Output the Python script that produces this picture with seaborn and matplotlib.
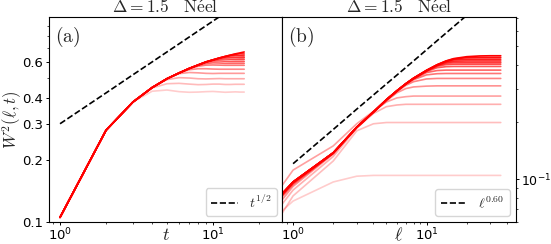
import matplotlib
matplotlib.use("Agg")
import matplotlib.pyplot as plt
import numpy as np
import seaborn as sns
from matplotlib.ticker import NullFormatter

# panel (a): W^2 vs t, one curve per subsystem size
t_vals = [1, 2, 3, 4, 5, 6, 7, 8, 9, 10, 11, 12, 13, 14, 15, 16]
w_t_curves = [
    [0.105, 0.279, 0.383, 0.432, 0.438, 0.430, 0.427, 0.428, 0.430, 0.431, 0.429, 0.427, 0.428, 0.429, 0.428, 0.428],
    [0.105, 0.279, 0.383, 0.448, 0.470, 0.472, 0.468, 0.465, 0.466, 0.468, 0.468, 0.466, 0.466, 0.467, 0.467, 0.467],
    [0.105, 0.279, 0.383, 0.450, 0.492, 0.503, 0.501, 0.497, 0.496, 0.497, 0.498, 0.497, 0.497, 0.497, 0.497, 0.497],
    [0.105, 0.279, 0.383, 0.450, 0.497, 0.526, 0.533, 0.531, 0.528, 0.527, 0.528, 0.528, 0.528, 0.528, 0.528, 0.528],
    [0.105, 0.279, 0.383, 0.450, 0.497, 0.530, 0.550, 0.556, 0.556, 0.554, 0.553, 0.553, 0.553, 0.553, 0.553, 0.553],
    [0.105, 0.279, 0.383, 0.450, 0.497, 0.530, 0.556, 0.572, 0.579, 0.580, 0.579, 0.578, 0.578, 0.578, 0.578, 0.578],
    [0.105, 0.279, 0.383, 0.450, 0.497, 0.530, 0.558, 0.578, 0.590, 0.594, 0.593, 0.591, 0.591, 0.591, 0.591, 0.591],
    [0.105, 0.279, 0.383, 0.450, 0.497, 0.530, 0.558, 0.580, 0.598, 0.606, 0.607, 0.605, 0.604, 0.604, 0.604, 0.604],
    [0.105, 0.279, 0.383, 0.450, 0.497, 0.530, 0.558, 0.580, 0.600, 0.612, 0.619, 0.620, 0.619, 0.618, 0.618, 0.618],
    [0.105, 0.279, 0.383, 0.450, 0.497, 0.530, 0.558, 0.580, 0.600, 0.614, 0.626, 0.631, 0.632, 0.631, 0.630, 0.630],
    [0.105, 0.279, 0.383, 0.450, 0.497, 0.530, 0.558, 0.580, 0.600, 0.614, 0.627, 0.637, 0.643, 0.644, 0.643, 0.642],
    [0.105, 0.279, 0.383, 0.450, 0.497, 0.530, 0.558, 0.580, 0.600, 0.614, 0.627, 0.638, 0.647, 0.654, 0.657, 0.656],
    [0.105, 0.279, 0.383, 0.450, 0.497, 0.530, 0.558, 0.580, 0.600, 0.614, 0.627, 0.638, 0.648, 0.657, 0.664, 0.671],
]
t_guide = [0.300, 0.424, 0.520, 0.600, 0.671, 0.735, 0.794, 0.849, 0.900, 0.949, 0.995, 1.039, 1.082, 1.122, 1.162, 1.200]

# panel (b): W^2 vs subsystem size, one curve per time
ell_vals = [0.8, 1, 2, 3, 4, 5, 6, 7, 8, 10, 12, 14, 16, 20, 25, 30, 36]
w_ell_curves = [
    [0.067, 0.077, 0.097, 0.104, 0.105, 0.105, 0.105, 0.105, 0.105, 0.105, 0.105, 0.105, 0.105, 0.105, 0.105, 0.105, 0.105],
    [0.064, 0.082, 0.125, 0.180, 0.196, 0.199, 0.199, 0.199, 0.199, 0.199, 0.199, 0.199, 0.199, 0.199, 0.199, 0.199, 0.199],
    [0.072, 0.088, 0.132, 0.186, 0.222, 0.241, 0.246, 0.248, 0.248, 0.248, 0.248, 0.248, 0.248, 0.248, 0.248, 0.248, 0.248],
    [0.090, 0.112, 0.150, 0.196, 0.228, 0.255, 0.268, 0.272, 0.274, 0.274, 0.274, 0.274, 0.274, 0.274, 0.274, 0.274, 0.274],
    [0.076, 0.092, 0.136, 0.187, 0.225, 0.258, 0.285, 0.300, 0.306, 0.309, 0.310, 0.310, 0.310, 0.310, 0.310, 0.310, 0.310],
    [0.079, 0.094, 0.137, 0.188, 0.226, 0.260, 0.289, 0.312, 0.326, 0.337, 0.339, 0.339, 0.339, 0.339, 0.339, 0.339, 0.339],
    [0.080, 0.095, 0.137, 0.188, 0.226, 0.261, 0.291, 0.316, 0.334, 0.354, 0.359, 0.360, 0.360, 0.360, 0.360, 0.360, 0.360],
    [0.081, 0.096, 0.138, 0.188, 0.226, 0.262, 0.292, 0.317, 0.337, 0.364, 0.373, 0.375, 0.375, 0.375, 0.375, 0.375, 0.375],
    [0.081, 0.096, 0.138, 0.188, 0.226, 0.262, 0.292, 0.318, 0.338, 0.369, 0.386, 0.391, 0.392, 0.392, 0.392, 0.392, 0.392],
    [0.082, 0.097, 0.138, 0.188, 0.226, 0.262, 0.292, 0.318, 0.339, 0.371, 0.393, 0.401, 0.403, 0.403, 0.403, 0.403, 0.403],
    [0.082, 0.097, 0.138, 0.188, 0.226, 0.262, 0.292, 0.318, 0.340, 0.372, 0.396, 0.408, 0.411, 0.411, 0.411, 0.411, 0.411],
    [0.082, 0.097, 0.138, 0.188, 0.226, 0.262, 0.292, 0.318, 0.340, 0.373, 0.398, 0.413, 0.418, 0.419, 0.419, 0.419, 0.419],
    [0.082, 0.097, 0.138, 0.188, 0.226, 0.262, 0.292, 0.318, 0.340, 0.373, 0.399, 0.416, 0.425, 0.428, 0.428, 0.428, 0.428],
    [0.082, 0.097, 0.138, 0.188, 0.226, 0.262, 0.292, 0.318, 0.340, 0.374, 0.400, 0.418, 0.429, 0.436, 0.437, 0.437, 0.437],
    [0.082, 0.097, 0.138, 0.188, 0.226, 0.262, 0.292, 0.318, 0.340, 0.374, 0.400, 0.419, 0.431, 0.441, 0.445, 0.446, 0.446],
]
ell_guide_x = [1, 2, 3, 5, 8, 12, 18, 25, 36]
ell_guide_y = [0.121, 0.183, 0.234, 0.317, 0.419, 0.535, 0.682, 0.831, 1.036]

left_yticks = [0.1, 0.2, 0.3, 0.4, 0.6]
left_yticklabels = ["0.1", "0.2", "0.3", "0.4", "0.6"]


def main() -> None:
    sns.set_style("ticks")
    plt.rcParams["mathtext.fontset"] = "cm"
    plt.rcParams["font.family"] = ["DejaVu Sans"]
    plt.rcParams["axes.edgecolor"] = "black"
    plt.rcParams["xtick.color"] = "black"
    plt.rcParams["ytick.color"] = "black"
    plt.rcParams["axes.linewidth"] = 0.8

    fig = plt.figure(figsize=(5.51, 2.44), dpi=100)
    bottom = 1 - 221.7 / 244
    height = (221.7 - 17.3) / 244
    ax1 = fig.add_axes([49 / 551, bottom, (282.3 - 49) / 551, height])
    ax2 = fig.add_axes([282.3 / 551, bottom, (515.7 - 282.3) / 551, height])

    left_alphas = np.linspace(0.2, 1.0, len(w_t_curves)).clip(0, 1)
    for curve, a in zip(w_t_curves, left_alphas):
        sns.lineplot(x=t_vals, y=curve, color="red", lw=1.2, alpha=float(a), ax=ax1)
    sns.lineplot(x=t_vals, y=t_guide, color="black", lw=1.2, linestyle="--",
                 label=r"$t^{1/2}$", ax=ax1)

    right_alphas = np.linspace(0.2, 1.0, len(w_ell_curves)).clip(0, 1)
    for curve, a in zip(w_ell_curves, right_alphas):
        sns.lineplot(x=ell_vals, y=curve, color="red", lw=1.2, alpha=float(a), ax=ax2)
    sns.lineplot(x=ell_guide_x, y=ell_guide_y, color="black", lw=1.2,
                 linestyle="--", label=r"$\ell^{0.60}$", ax=ax2)

    for ax in (ax1, ax2):
        ax.set_xscale("log")
        ax.set_yscale("log")
        ax.tick_params(which="major", labelsize=9.5, length=2.5, width=0.7)
        ax.tick_params(which="minor", length=1.5, width=0.5)
        ax.tick_params(axis="x", which="both", pad=1)
        ax.tick_params(axis="y", which="both", pad=2)
        ax.set_title(r"$\Delta = 1.5 \quad \mathrm{N\acute{e}el}$", fontsize=12.5, pad=2)
        ax.legend(loc="lower right", fontsize=10, handlelength=1.9,
                  borderaxespad=0.4)

    ax1.set_xlim(0.847, 28.4)
    ax1.set_ylim(0.1, 0.99)
    ax1.set_yticks(left_yticks)
    ax1.set_yticklabels(left_yticklabels)
    ax1.yaxis.set_minor_formatter(NullFormatter())
    ax1.set_xlabel(r"$t$", fontsize=13, labelpad=-12.5)
    ax1.set_ylabel(r"$W^2(\ell,t)$", fontsize=12)
    ax1.yaxis.set_label_coords(-0.108, 0.5)
    ax1.text(0.025, 0.965, r"$(\mathrm{a})$", transform=ax1.transAxes,
             fontsize=14, va="top", ha="left")

    ax2.set_xlim(0.83, 46.6)
    ax2.set_ylim(0.06, 0.71)
    ax2.yaxis.tick_right()
    ax2.tick_params(axis="y", which="major", pad=1, labelsize=9)
    ax2.set_xlabel(r"$\ell$", fontsize=13, labelpad=-12.5)
    ax2.set_ylabel("")
    ax2.text(0.025, 0.965, r"$(\mathrm{b})$", transform=ax2.transAxes,
             fontsize=14, va="top", ha="left")

    fig.savefig("out.png", dpi=100)
    plt.close(fig)


if __name__ == "__main__":
    main()
